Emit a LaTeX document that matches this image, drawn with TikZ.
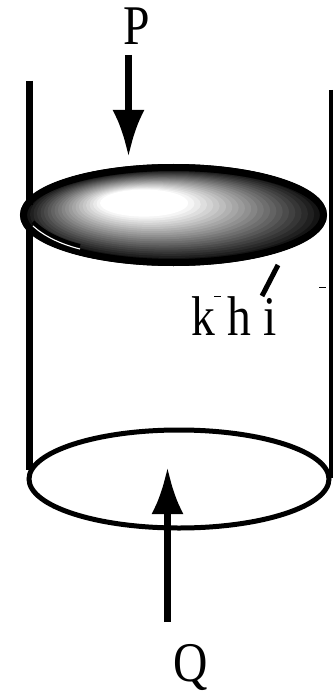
\documentclass[tikz,border=0pt]{standalone}
\usepackage{fontspec}
\setmainfont{Liberation Serif}
\usetikzlibrary{arrows.meta,positioning}
\tikzset{
wall/.style={line width=#1,line cap=butt},
rim/.style={draw,line width=#1},
force/.style={line width=7pt,-{Latex[length=47pt,width=32pt]}},
lbl/.style={inner sep=0pt,font=\fontsize{56}{56}\selectfont,xscale=0.85,anchor=base}
}

\begin{document}
\begin{tikzpicture}[x=1pt,y=-1pt]
\useasboundingbox (0,0) rectangle (332,695);

% walls
\coordinate (lt) at (29.5,81);
\coordinate (lb) at (29.5,470);
\coordinate (rt) at (331,90);
\coordinate (rb) at (331,478);
\draw[wall=7pt] (lt) -- (lb);
\draw[wall=3.5pt] (rt) -- (rb);

% bottom ring
\draw[rim=5pt] (179,479) ellipse [x radius=150,y radius=49];

% piston
\fill (173.5,215) ellipse [x radius=153.5,y radius=51];
\foreach \i in {0,...,29}{
  \pgfmathsetmacro{\t}{\i/30}
  \pgfmathsetmacro{\g}{min(100,8+132*\t)}
  \fill[white!\g!black] ({173.5-42*\t},{215-17*\t}) ellipse [x radius={147*(1-\t)},y radius={45*(1-\t)}];
}
\draw[rim=7pt] (173.5,215) ellipse [x radius=150,y radius=47.5];
\draw[line width=4pt] (33,222) .. controls (44,233) and (60,241) .. (80,246);
\draw[white,line width=1.1pt] (33,226) .. controls (44,236) and (60,244) .. (80,249);
\draw[wall=7pt] (lt) -- (29.5,205);

% labels
\node[lbl] (p) at (137,45) {P};
\node[lbl] (q) at (191,681) {Q};
\node[lbl] (khi) at (234,335) {k h i};

% forces
\coordinate (ptop) at (128.5,55);
\coordinate (ptip) at (128.5,157);
\coordinate (qbot) at (167.5,622);
\coordinate (qtip) at (167.5,467);
\draw[force] (ptop) -- (ptip);
\draw[force] (qbot) -- (qtip);

% pointer
\coordinate (k1) at (278,265);
\coordinate (k2) at (262,296);
\draw[line width=5pt] (k1) -- (k2);

% specks
\draw[line width=1pt] (214,296) -- (221,296);
\draw[line width=1pt] (319,287) -- (326,287);
\end{tikzpicture}
\end{document}
